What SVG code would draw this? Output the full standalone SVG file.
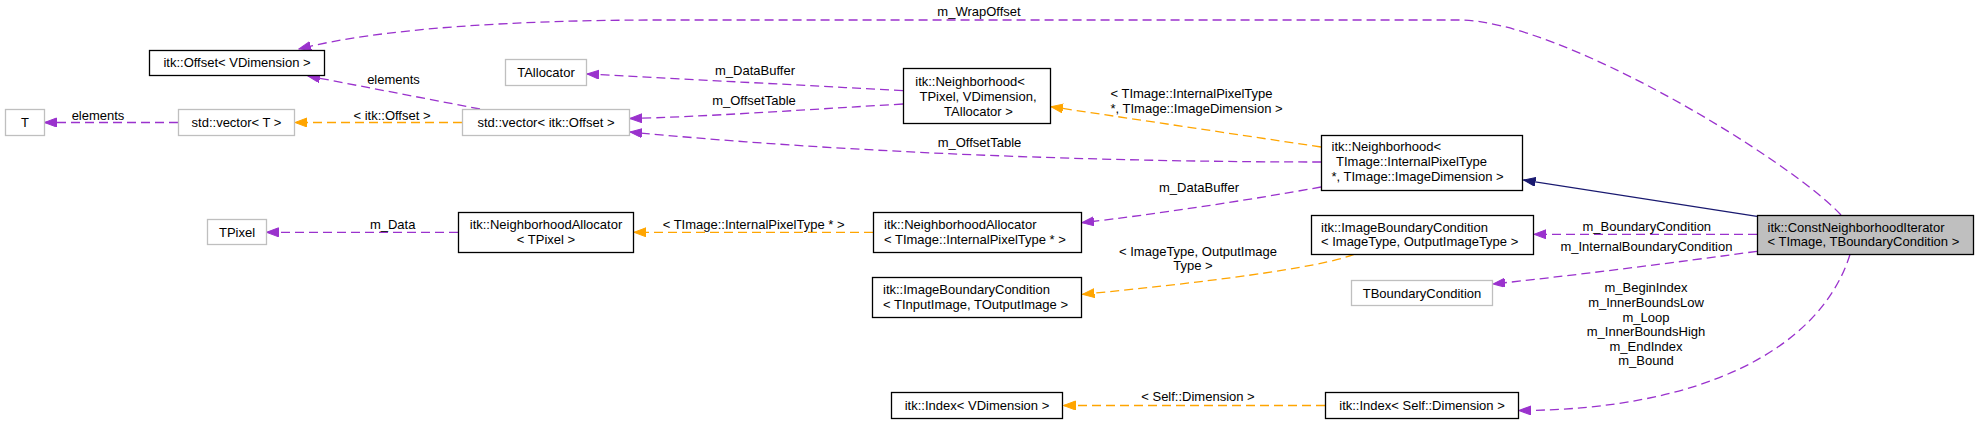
<svg xmlns="http://www.w3.org/2000/svg" width="1979" height="424" viewBox="0 0 1979 424">
<style>
text{font-family:"Liberation Sans",Arial,Helvetica,sans-serif;font-size:13px;fill:#000}
.c{text-anchor:middle}
.n rect{fill:#fff;stroke:#000;stroke-width:1.3}
.g rect{fill:#fff;stroke:#bfbfbf;stroke-width:1.3}
.cur rect{fill:#bfbfbf;stroke:#000;stroke-width:1.3}
.p{fill:none;stroke:#9a32cd;stroke-width:1.3;stroke-dasharray:9,5;marker-end:url(#ap)}
.o{fill:none;stroke:#ffa500;stroke-width:1.3;stroke-dasharray:9,5;marker-end:url(#ao)}
.b{fill:none;stroke:#191970;stroke-width:1.3;marker-end:url(#ab)}
</style>
<defs>
<marker id="ap" markerUnits="userSpaceOnUse" markerWidth="13" markerHeight="10" refX="12" refY="4.5" orient="auto"><path d="M0,0 L12,4.5 L0,9 z" fill="#9a32cd" stroke="#9a32cd"/></marker>
<marker id="ao" markerUnits="userSpaceOnUse" markerWidth="13" markerHeight="10" refX="12" refY="4.5" orient="auto"><path d="M0,0 L12,4.5 L0,9 z" fill="#ffa500" stroke="#ffa500"/></marker>
<marker id="ab" markerUnits="userSpaceOnUse" markerWidth="13" markerHeight="10" refX="12" refY="4.5" orient="auto"><path d="M0,0 L12,4.5 L0,9 z" fill="#191970" stroke="#191970"/></marker>
</defs>
<rect width="1979" height="424" fill="#fff"/>

<g id="connectors">
  <path class="p" d="M1841,215 C1790,160 1560,20 1459,20 L660,20 C520,20 380,28 299,49"/>
  <text class="c" x="979" y="16">m_WrapOffset</text>
  <path class="p" d="M480,109 L308,76"/>
  <text class="c" x="393.5" y="83.5">elements</text>
  <path class="p" d="M178,122.5 L44.5,122.5"/>
  <text class="c" x="98" y="119.5">elements</text>
  <path class="o" d="M462,122.5 L295,122.5"/>
  <text class="c" x="392" y="119.5">&lt; itk::Offset &gt;</text>
  <path class="p" d="M903,90.7 C800,85 700,80 587,74"/>
  <text class="c" x="755" y="75">m_DataBuffer</text>
  <path class="p" d="M903,104 C800,110 700,117 630,118.5"/>
  <text class="c" x="754" y="104.5">m_OffsetTable</text>
  <path class="p" d="M1321,162 C1150,162 880,156 630,132"/>
  <text class="c" x="979.5" y="147">m_OffsetTable</text>
  <path class="o" d="M1321,147 L1051,106.7"/>
  <text x="1110.5" y="98">&lt; TImage::InternalPixelType</text>
  <text x="1110.5" y="112.5">*, TImage::ImageDimension &gt;</text>
  <path class="p" d="M1321,187 C1250,200 1150,215 1082,222.7"/>
  <text class="c" x="1199" y="192">m_DataBuffer</text>
  <path class="o" d="M873,232.3 L634,232.3"/>
  <text class="c" x="753.6" y="228.5">&lt; TImage::InternalPixelType * &gt;</text>
  <path class="p" d="M458,232.3 L266.5,232.3"/>
  <text class="c" x="392.7" y="228.5">m_Data</text>
  <path class="o" d="M1354,254.3 C1320,268 1200,283 1082.5,294.3"/>
  <text class="c" x="1198" y="255.5">&lt; ImageType, OutputImage</text>
  <text class="c" x="1193" y="269.5">Type &gt;</text>
  <path class="b" d="M1757,216.3 L1523.5,180"/>
  <path class="p" d="M1757,234.3 L1534,234.3"/>
  <text class="c" x="1646.8" y="231">m_BoundaryCondition</text>
  <path class="p" d="M1757,251.3 C1680,262 1560,277 1493,284"/>
  <text class="c" x="1646.4" y="251">m_InternalBoundaryCondition</text>
  <path class="p" d="M1850,254.5 C1820,350 1700,410 1519,410.5"/>
  <text class="c" x="1646" y="292">m_BeginIndex</text>
  <text class="c" x="1646" y="307">m_InnerBoundsLow</text>
  <text class="c" x="1646" y="321.5">m_Loop</text>
  <text class="c" x="1646" y="336">m_InnerBoundsHigh</text>
  <text class="c" x="1646" y="350.5">m_EndIndex</text>
  <text class="c" x="1646" y="365">m_Bound</text>
  <path class="o" d="M1325,405.5 L1063.5,405.5"/>
  <text class="c" x="1198" y="401">&lt; Self::Dimension &gt;</text>
</g>

<g id="node-offset" class="n"><rect x="149.5" y="50.5" width="175" height="25"/><text class="c" x="237" y="67">itk::Offset&lt; VDimension &gt;</text></g>
<g id="node-tallocator" class="g"><rect x="505.5" y="59.5" width="81" height="26"/><text class="c" x="546" y="77">TAllocator</text></g>
<g id="node-t" class="g"><rect x="5.5" y="109.5" width="39" height="26"/><text class="c" x="25" y="127">T</text></g>
<g id="node-vector-t" class="g"><rect x="178.5" y="109.5" width="116" height="26"/><text class="c" x="236.5" y="127">std::vector&lt; T &gt;</text></g>
<g id="node-vector-offset" class="g"><rect x="462.5" y="109.5" width="167" height="26"/><text class="c" x="546" y="127">std::vector&lt; itk::Offset &gt;</text></g>
<g id="node-neighborhood-tpixel" class="n"><rect x="903.5" y="68.5" width="147" height="55"/>
  <text class="c" x="970" y="85.5">itk::Neighborhood&lt;</text>
  <text class="c" x="978" y="100.5">TPixel, VDimension,</text>
  <text class="c" x="978.5" y="115.5">TAllocator &gt;</text></g>
<g id="node-neighborhood-timage" class="n"><rect x="1321.5" y="135.5" width="201" height="55"/>
  <text x="1331.5" y="151">itk::Neighborhood&lt;</text>
  <text x="1336" y="166">TImage::InternalPixelType</text>
  <text x="1331.5" y="181">*, TImage::ImageDimension &gt;</text></g>
<g id="node-tpixel" class="g"><rect x="207.5" y="219.5" width="59" height="25"/><text class="c" x="237" y="236.5">TPixel</text></g>
<g id="node-nalloc-tpixel" class="n"><rect x="458.5" y="212.5" width="175" height="40"/>
  <text class="c" x="546" y="228.5">itk::NeighborhoodAllocator</text>
  <text class="c" x="546" y="243.5">&lt; TPixel &gt;</text></g>
<g id="node-nalloc-timage" class="n"><rect x="873.5" y="212.5" width="208" height="40"/>
  <text x="884" y="228.5">itk::NeighborhoodAllocator</text>
  <text x="884" y="243.5">&lt; TImage::InternalPixelType * &gt;</text></g>
<g id="node-ibc-imagetype" class="n"><rect x="1311.5" y="215.5" width="222" height="39"/>
  <text x="1321" y="231.5">itk::ImageBoundaryCondition</text>
  <text x="1321" y="245.5">&lt; ImageType, OutputImageType &gt;</text></g>
<g id="node-const-neighborhood-iterator" class="cur"><rect x="1757.5" y="215.5" width="216" height="39"/>
  <text x="1767.5" y="231.5">itk::ConstNeighborhoodIterator</text>
  <text x="1767.5" y="245.5">&lt; TImage, TBoundaryCondition &gt;</text></g>
<g id="node-ibc-tinput" class="n"><rect x="872.5" y="277.5" width="209" height="40"/>
  <text x="883" y="293.5">itk::ImageBoundaryCondition</text>
  <text x="883" y="308.5">&lt; TInputImage, TOutputImage &gt;</text></g>
<g id="node-tboundary" class="g"><rect x="1351.5" y="280.5" width="141" height="25"/><text class="c" x="1422" y="297.5">TBoundaryCondition</text></g>
<g id="node-index-vdim" class="n"><rect x="891.5" y="392.5" width="171" height="26"/><text class="c" x="977" y="410">itk::Index&lt; VDimension &gt;</text></g>
<g id="node-index-self" class="n"><rect x="1325.5" y="392.5" width="193" height="26"/><text class="c" x="1422" y="410">itk::Index&lt; Self::Dimension &gt;</text></g>
</svg>
